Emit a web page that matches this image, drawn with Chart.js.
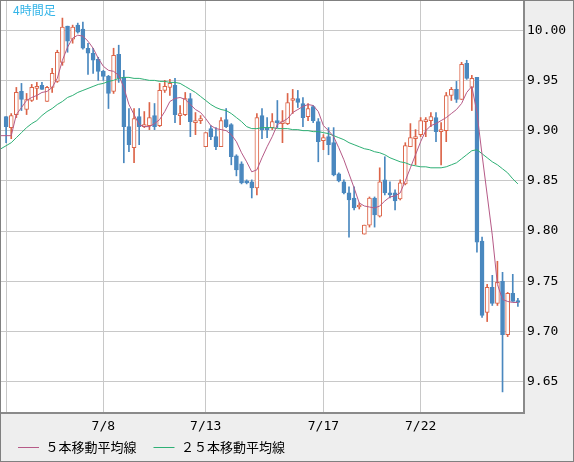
<!DOCTYPE html>
<html>
<head>
<meta charset="utf-8">
<script src="https://cdn.jsdelivr.net/npm/chart.js@4.4.0/dist/chart.umd.min.js"></script>
<style>
    html, body { margin: 0; padding: 0; background: #eeeeee; }
    #wrap { width: 574px; height: 462px; position: relative; }
</style>
</head>
<body>
<div id="wrap"><canvas id="chart"></canvas></div>
<script>
// 4-hour candles, oldest first
const opens = [
    9.914, 9.903, 9.916, 9.939, 9.921, 9.930, 9.942, 9.945, 9.929, 9.943,
    9.949, 9.968, 10.004, 9.991, 10.005, 10.001, 9.982, 9.977, 9.971, 9.959,
    9.954, 9.939, 9.976, 9.953, 9.904, 9.883, 9.914, 9.904, 9.905, 9.915,
    9.905, 9.940, 9.943, 9.945, 9.915, 9.916, 9.932, 9.908, 9.910, 9.884,
    9.902, 9.894, 9.884, 9.911, 9.906, 9.875, 9.867, 9.850, 9.849, 9.843,
    9.915, 9.903, 9.903, 9.910, 9.907, 9.907, 9.930, 9.932, 9.927, 9.914,
    9.924, 9.909, 9.890, 9.894, 9.888, 9.857, 9.849, 9.838, 9.833, 9.824,
    9.797, 9.806, 9.833, 9.815, 9.851, 9.838, 9.838, 9.832, 9.847, 9.884,
    9.892, 9.896, 9.909, 9.910, 9.913, 9.899, 9.900, 9.935, 9.941, 9.931,
    9.967, 9.943, 9.953, 9.790, 9.719, 9.744, 9.728, 9.750, 9.697, 9.738,
    9.730
];
const highs = [
    9.914, 9.917, 9.943, 9.947, 9.937, 9.946, 9.948, 9.948, 9.944, 9.962,
    9.980, 10.012, 10.004, 10.005, 10.007, 10.008, 9.987, 9.982, 9.973, 9.960,
    9.955, 9.982, 9.985, 9.960, 9.922, 9.922, 9.922, 9.919, 9.928, 9.927,
    9.947, 9.950, 9.951, 9.952, 9.925, 9.938, 9.937, 9.918, 9.915, 9.898,
    9.905, 9.903, 9.913, 9.922, 9.907, 9.876, 9.869, 9.851, 9.851, 9.917,
    9.922, 9.913, 9.917, 9.930, 9.920, 9.937, 9.941, 9.940, 9.933, 9.927,
    9.925, 9.912, 9.896, 9.903, 9.903, 9.858, 9.851, 9.844, 9.844, 9.828,
    9.806, 9.834, 9.834, 9.863, 9.874, 9.849, 9.841, 9.851, 9.888, 9.907,
    9.901, 9.913, 9.913, 9.918, 9.918, 9.908, 9.938, 9.943, 9.949, 9.968,
    9.970, 9.955, 9.953, 9.794, 9.747, 9.756, 9.770, 9.759, 9.739, 9.757,
    9.733
];
const lows = [
    9.888, 9.892, 9.913, 9.920, 9.916, 9.929, 9.931, 9.941, 9.929, 9.938,
    9.948, 9.965, 9.978, 9.987, 9.997, 9.981, 9.956, 9.957, 9.950, 9.950,
    9.922, 9.937, 9.948, 9.868, 9.879, 9.868, 9.886, 9.903, 9.901, 9.901,
    9.904, 9.938, 9.935, 9.908, 9.906, 9.915, 9.894, 9.896, 9.907, 9.884,
    9.891, 9.881, 9.884, 9.903, 9.866, 9.855, 9.847, 9.847, 9.833, 9.836,
    9.892, 9.893, 9.901, 9.903, 9.888, 9.906, 9.917, 9.923, 9.904, 9.910,
    9.908, 9.869, 9.881, 9.876, 9.855, 9.849, 9.837, 9.794, 9.821, 9.822,
    9.797, 9.804, 9.804, 9.814, 9.836, 9.833, 9.821, 9.831, 9.846, 9.884,
    9.866, 9.894, 9.894, 9.904, 9.889, 9.866, 9.889, 9.930, 9.928, 9.931,
    9.951, 9.920, 9.779, 9.714, 9.710, 9.726, 9.726, 9.640, 9.695, 9.730,
    9.725
];
const closes = [
    9.904, 9.915, 9.938, 9.931, 9.931, 9.943, 9.944, 9.941, 9.943, 9.957,
    9.978, 10.003, 9.989, 10.003, 9.998, 9.982, 9.977, 9.970, 9.959, 9.954,
    9.937, 9.975, 9.952, 9.904, 9.886, 9.912, 9.904, 9.905, 9.913, 9.904,
    9.940, 9.944, 9.947, 9.916, 9.916, 9.932, 9.909, 9.910, 9.911, 9.898,
    9.894, 9.884, 9.910, 9.904, 9.874, 9.861, 9.848, 9.848, 9.843, 9.913,
    9.901, 9.901, 9.909, 9.908, 9.908, 9.928, 9.932, 9.928, 9.913, 9.922,
    9.910, 9.889, 9.893, 9.886, 9.856, 9.850, 9.838, 9.831, 9.823, 9.826,
    9.806, 9.833, 9.816, 9.849, 9.838, 9.836, 9.830, 9.848, 9.885, 9.893,
    9.894, 9.910, 9.910, 9.914, 9.899, 9.901, 9.935, 9.941, 9.931, 9.966,
    9.952, 9.952, 9.789, 9.716, 9.744, 9.728, 9.749, 9.697, 9.738, 9.730,
    9.729
];

// moving averages, first value is one bar before the first candle
const ma5 = [
    9.895,
    9.895, 9.895, 9.916, 9.923, 9.930, 9.933, 9.935, 9.938, 9.939, 9.943,
    9.952, 9.970, 9.983, 9.992, 9.995, 9.994, 9.989, 9.982, 9.972, 9.964,
    9.960, 9.959, 9.955, 9.943, 9.926, 9.916, 9.906, 9.904, 9.904, 9.907,
    9.911, 9.919, 9.929, 9.932, 9.933, 9.931, 9.926, 9.921, 9.918, 9.912,
    9.905, 9.902, 9.901, 9.900, 9.896, 9.889, 9.878, 9.869, 9.859, 9.861,
    9.873, 9.884, 9.894, 9.906, 9.909, 9.912, 9.918, 9.921, 9.924, 9.926,
    9.925, 9.919, 9.905, 9.900, 9.894, 9.883, 9.871, 9.857, 9.843, 9.828,
    9.825, 9.824, 9.823, 9.825, 9.830, 9.834, 9.835, 9.838, 9.850, 9.863,
    9.876, 9.889, 9.900, 9.905, 9.907, 9.910, 9.913, 9.917, 9.921, 9.927,
    9.938, 9.944, 9.918, 9.876, 9.836, 9.796, 9.747, 9.732, 9.730, 9.729,
    9.729
];
const ma25 = [
    9.882,
    9.885, 9.888, 9.893, 9.898, 9.903, 9.907, 9.910, 9.915, 9.919, 9.922,
    9.926, 9.929, 9.933, 9.935, 9.938, 9.940, 9.942, 9.944, 9.946, 9.947,
    9.949, 9.950, 9.952, 9.953, 9.953, 9.952, 9.952, 9.951, 9.950, 9.950,
    9.949, 9.949, 9.948, 9.948, 9.947, 9.944, 9.941, 9.938, 9.934, 9.930,
    9.926, 9.923, 9.921, 9.920, 9.917, 9.913, 9.909, 9.904, 9.902, 9.902,
    9.903, 9.903, 9.903, 9.902, 9.902, 9.902, 9.901, 9.901, 9.900, 9.900,
    9.899, 9.899, 9.898, 9.897, 9.895, 9.893, 9.891, 9.888, 9.886, 9.884,
    9.882, 9.881, 9.879, 9.878, 9.876, 9.873, 9.871, 9.869, 9.868, 9.866,
    9.865, 9.864, 9.864, 9.863, 9.863, 9.863, 9.864, 9.866, 9.868, 9.872,
    9.876, 9.880, 9.881, 9.877, 9.873, 9.869, 9.866, 9.862, 9.858, 9.852,
    9.847
];

// date gridlines (candle index) and their labels
const tickIndex = [0, 19, 39, 62, 81];
const tickLabels = ["", "7/8", "7/13", "7/17", "7/22"];

const UP = "#dc6448";
const DOWN = "#4a88bf";
const MA5_COLOR = "#b65a87";
const MA25_COLOR = "#2eb075";
const GRID = "#c8c8c8";

const isUp = closes.map((c, i) => c >= opens[i]);

// backgrounds, frame and the "4時間足" caption
const framePlugin = {
    id: "frame",
    afterLayout(chart) {
        // let the date labels spill below the thin x axis box, nudge legend down
        const xs = chart.scales.x;
        xs.bottom = xs.top + 26;
        chart.legend.top += 2;
        chart.legend.bottom += 2;
    },
    beforeDraw(chart) {
        const { ctx, chartArea: a, width, height } = chart;
        ctx.save();
        ctx.fillStyle = "#eeeeee";
        ctx.fillRect(0, 0, width, height);
        ctx.fillStyle = "#ffffff";
        ctx.fillRect(a.left, a.top, a.right - a.left, a.bottom - a.top);
        ctx.restore();
    },
    afterDraw(chart) {
        const { ctx, chartArea: a, width, height } = chart;
        ctx.save();
        ctx.strokeStyle = "#8a8a8a";
        ctx.lineWidth = 2;
        ctx.beginPath();
        ctx.moveTo(a.right + 1, 0);
        ctx.lineTo(a.right + 1, a.bottom + 1);
        ctx.lineTo(0, a.bottom + 1);
        ctx.stroke();
        ctx.lineWidth = 1;
        ctx.strokeStyle = "#808080";
        ctx.strokeRect(0.5, 0.5, width - 1, height - 1);
        ctx.fillStyle = "#33b4e8";
        ctx.font = "12px 'Noto Sans CJK JP'";
        ctx.textBaseline = "middle";
        ctx.fillText("4時間足", 13, 10);
        ctx.restore();
    }
};

const monoFont = { family: "'DejaVu Sans Mono', monospace", size: 13 };

new Chart(document.getElementById("chart"), {
    type: "bar",
    data: {
        datasets: [
            {
                label: "wick",
                data: opens.map((o, i) => ({ x: i, y: [lows[i], highs[i]] })),
                backgroundColor: isUp.map(u => u ? UP : DOWN),
                borderWidth: 0,
                barThickness: 1,
                order: 3
            },
            {
                label: "body",
                data: opens.map((o, i) => ({ x: i, y: [o, closes[i]] })),
                backgroundColor: isUp.map(u => u ? "#ffffff" : DOWN),
                borderColor: isUp.map(u => u ? UP : DOWN),
                borderWidth: 1,
                borderSkipped: false,
                barThickness: 4,
                minBarLength: 2,
                order: 2
            },
            {
                type: "line",
                label: "５本移動平均線",
                data: ma5.map((v, i) => ({ x: i - 1, y: v })),
                borderColor: MA5_COLOR,
                backgroundColor: MA5_COLOR,
                borderWidth: 1,
                pointRadius: 0,
                tension: 0,
                order: 1
            },
            {
                type: "line",
                label: "２５本移動平均線",
                data: ma25.map((v, i) => ({ x: i - 1, y: v })),
                borderColor: MA25_COLOR,
                backgroundColor: MA25_COLOR,
                borderWidth: 1,
                pointRadius: 0,
                tension: 0,
                order: 1
            }
        ]
    },
    options: {
        responsive: true,
        maintainAspectRatio: false,
        animation: false,
        layout: { padding: { left: 1, top: 1, right: 0, bottom: 0 } },
        datasets: { bar: { grouped: false } },
        plugins: {
            tooltip: { enabled: false },
            legend: {
                position: "bottom",
                align: "start",
                labels: {
                    font: { family: "'Noto Sans CJK JP'", size: 13, lineHeight: 1 },
                    color: "#222222",
                    boxWidth: 21,
                    boxHeight: 1,
                    padding: 17,
                    filter: item => item.datasetIndex >= 2,
                    generateLabels(chart) {
                        return chart.data.datasets.map((ds, i) => ({
                            text: ds.label,
                            fillStyle: ds.borderColor,
                            strokeStyle: ds.borderColor,
                            lineWidth: 0,
                            datasetIndex: i
                        }));
                    }
                }
            }
        },
        scales: {
            x: {
                type: "linear",
                min: -1,
                max: 101,
                offset: false,
                grid: { color: GRID, lineWidth: 1, drawTicks: false, offset: false },
                border: { display: false },
                afterBuildTicks(scale) {
                    scale.ticks = tickIndex.map(v => ({ value: v }));
                },
                afterFit(scale) {
                    scale.height = 10;
                    scale.paddingLeft = 0;
                    scale.paddingRight = 0;
                },
                ticks: {
                    autoSkip: false,
                    maxRotation: 0,
                    padding: 7,
                    color: "#000000",
                    font: monoFont,
                    callback: v => tickLabels[tickIndex.indexOf(v)] ?? ""
                }
            },
            y: {
                position: "right",
                min: 9.62,
                max: 10.029,
                grid: { color: GRID, lineWidth: 1, drawTicks: false },
                border: { display: false },
                afterFit(scale) {
                    scale.width = 51;
                    scale.paddingTop = 0;
                    scale.paddingBottom = 0;
                },
                ticks: {
                    stepSize: 0.05,
                    includeBounds: false,
                    padding: 4,
                    color: "#000000",
                    font: monoFont,
                    callback: v => v.toFixed(2)
                }
            }
        }
    },
    plugins: [framePlugin]
});
</script>
</body>
</html>
